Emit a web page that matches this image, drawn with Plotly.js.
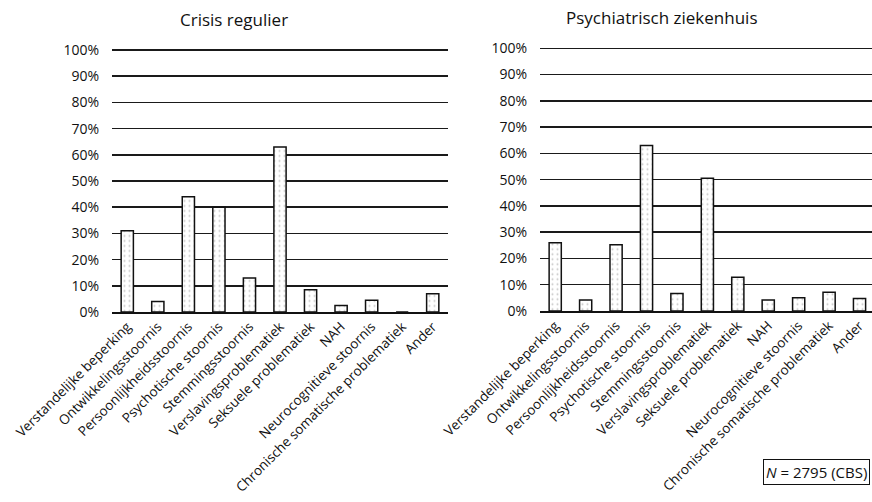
<!DOCTYPE html>
<html>
<head>
<meta charset="utf-8">
<script src="https://cdn.plot.ly/plotly-3.0.1.min.js"></script>
<style>
  html, body { margin: 0; padding: 0; background: #fff; }
  #chart { width: 872px; height: 502px; }
</style>
</head>
<body>
<div id="chart"></div>
<script>
// categories (same for both panels)
let categories = [
    'Verstandelijke beperking',
    'Ontwikkelingsstoornis',
    'Persoonlijkheidsstoornis',
    'Psychotische stoornis',
    'Stemmingsstoornis',
    'Verslavingsproblematiek',
    'Seksuele problematiek',
    'NAH',
    'Neurocognitieve stoornis',
    'Chronische somatische problematiek',
    'Ander',
];
// percentages
let crisisValues = [31, 4, 44, 40, 13, 63, 8.5, 2.5, 4.5, 0, 7];
let ziekenhuisValues = [26, 4.2, 25.2, 63, 6.7, 50.5, 12.8, 4.2, 5, 7.1, 4.8];
let yTicks = [0, 10, 20, 30, 40, 50, 60, 70, 80, 90, 100];
let yTickLabels = yTicks.map(v => v + '%');
let panelTitles = ['Crisis regulier', 'Psychiatrisch ziekenhuis'];
let noteText = '<i>N</i> = 2795 (CBS)';

const W = 872, H = 502;
const px = x => x / W;          // pixel -> paper x
const py = y => (H - y) / H;    // pixel -> paper y
const font = 'Open Sans, Liberation Sans, sans-serif';
const yTop = 100.6;             // a bit of headroom so the 100% gridline is drawn

let barStyle = {
    color: '#fdfdfd',
    line: { color: '#111', width: 1.5 },
    pattern: { shape: '.', fgcolor: '#c8c8c8', bgcolor: '#ffffff', size: 5, solidity: 0.12 },
};

let data = [{
    type: 'bar',
    x: categories,
    y: crisisValues,
    xaxis: 'x',
    yaxis: 'y',
    marker: barStyle,
    hoverinfo: 'skip',
}, {
    type: 'bar',
    x: categories,
    y: ziekenhuisValues,
    xaxis: 'x2',
    yaxis: 'y2',
    marker: barStyle,
    hoverinfo: 'skip',
}];

let xStyle = {
    type: 'category',
    tickangle: -45,
    ticks: '',
    showgrid: false,
    showline: true,
    linecolor: '#111',
    linewidth: 1.5,
    tickfont: { family: font, size: 13.5, color: '#111' },
};
let yStyle = {
    range: [0, yTop],
    tickvals: yTicks,
    ticktext: yTickLabels,
    ticks: '',
    ticklabelstandoff: 12,
    showline: false,
    zeroline: false,
    gridcolor: '#1a1a1a',
    gridwidth: 1.5,
    tickfont: { family: font, size: 14, color: '#111' },
};

// 0% at pixel y0, 100% at pixel y100 -> paper domain that ends at yTop
function yDomain(y0, y100) {
    let top = y0 - (y0 - y100) * yTop / 100;
    return [py(y0), py(top)];
}

let layout = {
    width: W,
    height: H,
    margin: { l: 0, r: 0, t: 0, b: 0, pad: 0 },
    paper_bgcolor: '#ffffff',
    plot_bgcolor: '#ffffff',
    showlegend: false,
    bargap: 0.6,
    xaxis: Object.assign({}, xStyle, { domain: [px(112), px(448)], range: [-0.5, 10.5], anchor: 'y' }),
    yaxis: Object.assign({}, yStyle, { domain: yDomain(312, 50), anchor: 'x' }),
    xaxis2: Object.assign({}, xStyle, { domain: [px(540), 1], range: [-0.5, 10.41], anchor: 'y2' }),
    yaxis2: Object.assign({}, yStyle, { domain: yDomain(311, 48.3), anchor: 'x2' }),
    annotations: [{
        text: panelTitles[0],
        xref: 'paper', yref: 'paper',
        x: px(234), y: py(20),
        xanchor: 'center', yanchor: 'middle',
        showarrow: false,
        font: { family: font, size: 17, color: '#111' },
    }, {
        text: panelTitles[1],
        xref: 'paper', yref: 'paper',
        x: px(662), y: py(18),
        xanchor: 'center', yanchor: 'middle',
        showarrow: false,
        font: { family: font, size: 17, color: '#111' },
    }, {
        text: noteText,
        xref: 'paper', yref: 'paper',
        x: px(870), y: py(471.5),
        xanchor: 'right', yanchor: 'middle',
        showarrow: false,
        bordercolor: '#111',
        borderwidth: 1,
        borderpad: 2,
        font: { family: font, size: 15, color: '#111' },
    }],
};

let config = {
    staticPlot: true,
    displayModeBar: false,
};

Plotly.newPlot('chart', data, layout, config);
</script>
</body>
</html>
